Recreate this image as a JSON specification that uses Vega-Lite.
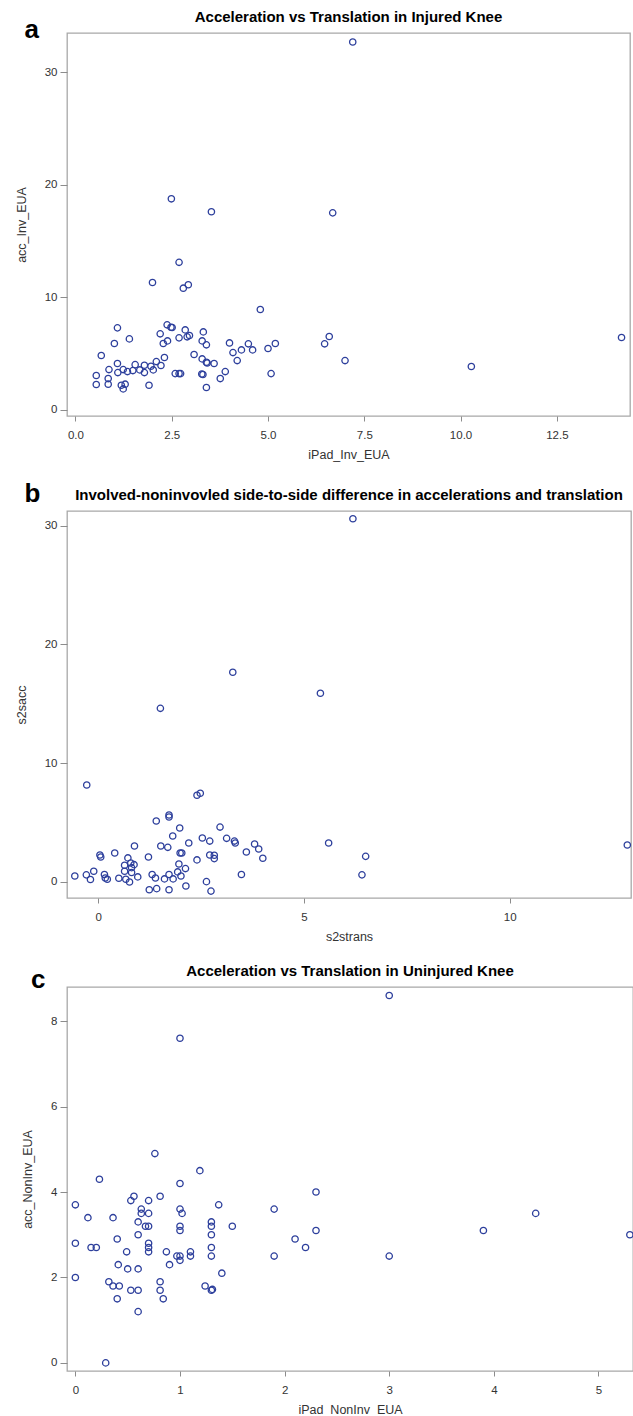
{
  "$schema": "https://vega.github.io/schema/vega-lite/v6.json",
  "padding": {"left": 14, "top": 9, "right": 0, "bottom": 0},
  "spacing": 19,
  "config": {
    "view": {"stroke": "#a8a8a8", "strokeWidth": 1.3},
    "font": "Liberation Sans",
    "axis": {
      "domain": false, "grid": false, "tickColor": "#8c8c8c", "tickWidth": 1,
      "labelFont": "Liberation Sans", "labelFontSize": 11.5, "labelColor": "#333333",
      "titleFont": "Liberation Sans", "titleFontSize": 12.5, "titleFontWeight": "normal", "titleColor": "#333333"
    },
    "axisX": {"tickSize": 5, "labelPadding": 8, "titlePadding": 8},
    "axisY": {"tickSize": 7, "labelPadding": 3, "titlePadding": 16}
  },
  "datasets": {
    "a": [
      {"iPad_Inv_EUA": 7.2, "acc_Inv_EUA": 32.7}, {"iPad_Inv_EUA": 2.49, "acc_Inv_EUA": 18.75}, {"iPad_Inv_EUA": 3.53, "acc_Inv_EUA": 17.6},
      {"iPad_Inv_EUA": 6.68, "acc_Inv_EUA": 17.5}, {"iPad_Inv_EUA": 2.69, "acc_Inv_EUA": 13.1}, {"iPad_Inv_EUA": 2.0, "acc_Inv_EUA": 11.3},
      {"iPad_Inv_EUA": 2.8, "acc_Inv_EUA": 10.8}, {"iPad_Inv_EUA": 2.93, "acc_Inv_EUA": 11.1}, {"iPad_Inv_EUA": 4.8, "acc_Inv_EUA": 8.9},
      {"iPad_Inv_EUA": 1.09, "acc_Inv_EUA": 7.27}, {"iPad_Inv_EUA": 2.38, "acc_Inv_EUA": 7.54}, {"iPad_Inv_EUA": 2.48, "acc_Inv_EUA": 7.33},
      {"iPad_Inv_EUA": 2.51, "acc_Inv_EUA": 7.3}, {"iPad_Inv_EUA": 2.85, "acc_Inv_EUA": 7.09}, {"iPad_Inv_EUA": 3.32, "acc_Inv_EUA": 6.91},
      {"iPad_Inv_EUA": 2.2, "acc_Inv_EUA": 6.74}, {"iPad_Inv_EUA": 2.69, "acc_Inv_EUA": 6.38}, {"iPad_Inv_EUA": 2.9, "acc_Inv_EUA": 6.47},
      {"iPad_Inv_EUA": 2.96, "acc_Inv_EUA": 6.59}, {"iPad_Inv_EUA": 1.4, "acc_Inv_EUA": 6.29}, {"iPad_Inv_EUA": 2.39, "acc_Inv_EUA": 6.11},
      {"iPad_Inv_EUA": 2.28, "acc_Inv_EUA": 5.88}, {"iPad_Inv_EUA": 1.01, "acc_Inv_EUA": 5.88}, {"iPad_Inv_EUA": 3.29, "acc_Inv_EUA": 6.11},
      {"iPad_Inv_EUA": 3.4, "acc_Inv_EUA": 5.76}, {"iPad_Inv_EUA": 4.0, "acc_Inv_EUA": 5.93}, {"iPad_Inv_EUA": 4.49, "acc_Inv_EUA": 5.85},
      {"iPad_Inv_EUA": 5.19, "acc_Inv_EUA": 5.88}, {"iPad_Inv_EUA": 5.0, "acc_Inv_EUA": 5.43}, {"iPad_Inv_EUA": 4.6, "acc_Inv_EUA": 5.31},
      {"iPad_Inv_EUA": 4.31, "acc_Inv_EUA": 5.31}, {"iPad_Inv_EUA": 4.09, "acc_Inv_EUA": 5.07}, {"iPad_Inv_EUA": 6.59, "acc_Inv_EUA": 6.5},
      {"iPad_Inv_EUA": 6.47, "acc_Inv_EUA": 5.85}, {"iPad_Inv_EUA": 14.18, "acc_Inv_EUA": 6.41}, {"iPad_Inv_EUA": 0.67, "acc_Inv_EUA": 4.81},
      {"iPad_Inv_EUA": 3.08, "acc_Inv_EUA": 4.9}, {"iPad_Inv_EUA": 2.31, "acc_Inv_EUA": 4.63}, {"iPad_Inv_EUA": 3.29, "acc_Inv_EUA": 4.51},
      {"iPad_Inv_EUA": 3.4, "acc_Inv_EUA": 4.21}, {"iPad_Inv_EUA": 3.42, "acc_Inv_EUA": 4.15}, {"iPad_Inv_EUA": 3.6, "acc_Inv_EUA": 4.1},
      {"iPad_Inv_EUA": 4.2, "acc_Inv_EUA": 4.36}, {"iPad_Inv_EUA": 7.0, "acc_Inv_EUA": 4.36}, {"iPad_Inv_EUA": 10.28, "acc_Inv_EUA": 3.83},
      {"iPad_Inv_EUA": 1.09, "acc_Inv_EUA": 4.1}, {"iPad_Inv_EUA": 1.55, "acc_Inv_EUA": 4.0}, {"iPad_Inv_EUA": 1.79, "acc_Inv_EUA": 3.95},
      {"iPad_Inv_EUA": 1.96, "acc_Inv_EUA": 3.86}, {"iPad_Inv_EUA": 2.1, "acc_Inv_EUA": 4.27}, {"iPad_Inv_EUA": 2.22, "acc_Inv_EUA": 3.92},
      {"iPad_Inv_EUA": 0.87, "acc_Inv_EUA": 3.56}, {"iPad_Inv_EUA": 1.24, "acc_Inv_EUA": 3.56}, {"iPad_Inv_EUA": 1.35, "acc_Inv_EUA": 3.38},
      {"iPad_Inv_EUA": 1.49, "acc_Inv_EUA": 3.47}, {"iPad_Inv_EUA": 1.67, "acc_Inv_EUA": 3.53}, {"iPad_Inv_EUA": 1.79, "acc_Inv_EUA": 3.29},
      {"iPad_Inv_EUA": 2.02, "acc_Inv_EUA": 3.53}, {"iPad_Inv_EUA": 1.1, "acc_Inv_EUA": 3.29}, {"iPad_Inv_EUA": 0.54, "acc_Inv_EUA": 3.03},
      {"iPad_Inv_EUA": 2.59, "acc_Inv_EUA": 3.2}, {"iPad_Inv_EUA": 2.69, "acc_Inv_EUA": 3.2}, {"iPad_Inv_EUA": 2.73, "acc_Inv_EUA": 3.2},
      {"iPad_Inv_EUA": 3.28, "acc_Inv_EUA": 3.17}, {"iPad_Inv_EUA": 3.31, "acc_Inv_EUA": 3.12}, {"iPad_Inv_EUA": 3.89, "acc_Inv_EUA": 3.38},
      {"iPad_Inv_EUA": 5.08, "acc_Inv_EUA": 3.2}, {"iPad_Inv_EUA": 3.76, "acc_Inv_EUA": 2.76}, {"iPad_Inv_EUA": 0.85, "acc_Inv_EUA": 2.76},
      {"iPad_Inv_EUA": 0.54, "acc_Inv_EUA": 2.23}, {"iPad_Inv_EUA": 0.85, "acc_Inv_EUA": 2.26}, {"iPad_Inv_EUA": 1.19, "acc_Inv_EUA": 2.17},
      {"iPad_Inv_EUA": 1.29, "acc_Inv_EUA": 2.26}, {"iPad_Inv_EUA": 1.24, "acc_Inv_EUA": 1.84}, {"iPad_Inv_EUA": 1.91, "acc_Inv_EUA": 2.17},
      {"iPad_Inv_EUA": 3.4, "acc_Inv_EUA": 1.96}
    ],
    "b": [
      {"s2strans": 6.19, "s2sacc": 30.6}, {"s2strans": 3.27, "s2sacc": 17.65}, {"s2strans": 5.4, "s2sacc": 15.88}, {"s2strans": 1.51, "s2sacc": 14.61},
      {"s2strans": -0.28, "s2sacc": 8.15}, {"s2strans": 2.4, "s2sacc": 7.28}, {"s2strans": 2.48, "s2sacc": 7.45}, {"s2strans": 1.72, "s2sacc": 5.62},
      {"s2strans": 1.72, "s2sacc": 5.45}, {"s2strans": 1.41, "s2sacc": 5.11}, {"s2strans": 2.96, "s2sacc": 4.6}, {"s2strans": 1.98, "s2sacc": 4.52},
      {"s2strans": 1.81, "s2sacc": 3.85}, {"s2strans": 2.53, "s2sacc": 3.68}, {"s2strans": 3.12, "s2sacc": 3.65}, {"s2strans": 2.71, "s2sacc": 3.42},
      {"s2strans": 3.31, "s2sacc": 3.42}, {"s2strans": 3.33, "s2sacc": 3.26}, {"s2strans": 2.2, "s2sacc": 3.26}, {"s2strans": 5.6, "s2sacc": 3.26},
      {"s2strans": 3.8, "s2sacc": 3.17}, {"s2strans": 12.86, "s2sacc": 3.09}, {"s2strans": 0.88, "s2sacc": 3.0}, {"s2strans": 1.52, "s2sacc": 3.0},
      {"s2strans": 1.69, "s2sacc": 2.89}, {"s2strans": 3.9, "s2sacc": 2.75}, {"s2strans": 0.04, "s2sacc": 2.25}, {"s2strans": 0.06, "s2sacc": 2.08},
      {"s2strans": 0.4, "s2sacc": 2.41}, {"s2strans": 1.99, "s2sacc": 2.41}, {"s2strans": 2.03, "s2sacc": 2.41}, {"s2strans": 3.6, "s2sacc": 2.5},
      {"s2strans": 2.71, "s2sacc": 2.25}, {"s2strans": 2.82, "s2sacc": 2.22}, {"s2strans": 2.82, "s2sacc": 1.94}, {"s2strans": 4.0, "s2sacc": 1.97},
      {"s2strans": 6.5, "s2sacc": 2.13}, {"s2strans": 1.22, "s2sacc": 2.08}, {"s2strans": 0.72, "s2sacc": 2.0}, {"s2strans": 2.4, "s2sacc": 1.83},
      {"s2strans": 0.79, "s2sacc": 1.57}, {"s2strans": 0.87, "s2sacc": 1.43}, {"s2strans": 0.64, "s2sacc": 1.38}, {"s2strans": 1.96, "s2sacc": 1.49},
      {"s2strans": 0.81, "s2sacc": 1.18}, {"s2strans": 0.64, "s2sacc": 0.88}, {"s2strans": 0.81, "s2sacc": 0.77}, {"s2strans": 2.12, "s2sacc": 1.1},
      {"s2strans": 1.93, "s2sacc": 0.82}, {"s2strans": -0.11, "s2sacc": 0.88}, {"s2strans": -0.57, "s2sacc": 0.48}, {"s2strans": -0.29, "s2sacc": 0.57},
      {"s2strans": -0.19, "s2sacc": 0.18}, {"s2strans": 0.15, "s2sacc": 0.6}, {"s2strans": 0.17, "s2sacc": 0.31}, {"s2strans": 0.22, "s2sacc": 0.2},
      {"s2strans": 0.5, "s2sacc": 0.28}, {"s2strans": 0.67, "s2sacc": 0.2}, {"s2strans": 0.76, "s2sacc": -0.03}, {"s2strans": 0.96, "s2sacc": 0.4},
      {"s2strans": 1.31, "s2sacc": 0.6}, {"s2strans": 1.39, "s2sacc": 0.31}, {"s2strans": 1.61, "s2sacc": 0.23}, {"s2strans": 1.72, "s2sacc": 0.6},
      {"s2strans": 1.82, "s2sacc": 0.23}, {"s2strans": 2.01, "s2sacc": 0.48}, {"s2strans": 3.48, "s2sacc": 0.6}, {"s2strans": 6.41, "s2sacc": 0.57},
      {"s2strans": 2.63, "s2sacc": 0.0}, {"s2strans": 2.13, "s2sacc": -0.37}, {"s2strans": 1.24, "s2sacc": -0.68}, {"s2strans": 1.42, "s2sacc": -0.59},
      {"s2strans": 1.72, "s2sacc": -0.68}, {"s2strans": 2.74, "s2sacc": -0.8}
    ],
    "c": [
      {"iPad_NonInv_EUA": 3.0, "acc_NonInv_EUA": 8.6}, {"iPad_NonInv_EUA": 1.0, "acc_NonInv_EUA": 7.6}, {"iPad_NonInv_EUA": 0.76, "acc_NonInv_EUA": 4.9},
      {"iPad_NonInv_EUA": 1.19, "acc_NonInv_EUA": 4.5}, {"iPad_NonInv_EUA": 0.23, "acc_NonInv_EUA": 4.3}, {"iPad_NonInv_EUA": 1.0, "acc_NonInv_EUA": 4.2},
      {"iPad_NonInv_EUA": 2.3, "acc_NonInv_EUA": 4.0}, {"iPad_NonInv_EUA": 0.56, "acc_NonInv_EUA": 3.9}, {"iPad_NonInv_EUA": 0.81, "acc_NonInv_EUA": 3.9},
      {"iPad_NonInv_EUA": 0.53, "acc_NonInv_EUA": 3.8}, {"iPad_NonInv_EUA": 0.7, "acc_NonInv_EUA": 3.8}, {"iPad_NonInv_EUA": 0.0, "acc_NonInv_EUA": 3.7},
      {"iPad_NonInv_EUA": 1.37, "acc_NonInv_EUA": 3.7}, {"iPad_NonInv_EUA": 0.63, "acc_NonInv_EUA": 3.6}, {"iPad_NonInv_EUA": 1.0, "acc_NonInv_EUA": 3.6},
      {"iPad_NonInv_EUA": 1.9, "acc_NonInv_EUA": 3.6}, {"iPad_NonInv_EUA": 0.63, "acc_NonInv_EUA": 3.5}, {"iPad_NonInv_EUA": 0.7, "acc_NonInv_EUA": 3.5},
      {"iPad_NonInv_EUA": 1.02, "acc_NonInv_EUA": 3.5}, {"iPad_NonInv_EUA": 4.4, "acc_NonInv_EUA": 3.5}, {"iPad_NonInv_EUA": 0.12, "acc_NonInv_EUA": 3.4},
      {"iPad_NonInv_EUA": 0.36, "acc_NonInv_EUA": 3.4}, {"iPad_NonInv_EUA": 0.6, "acc_NonInv_EUA": 3.3}, {"iPad_NonInv_EUA": 1.3, "acc_NonInv_EUA": 3.3},
      {"iPad_NonInv_EUA": 0.67, "acc_NonInv_EUA": 3.2}, {"iPad_NonInv_EUA": 0.7, "acc_NonInv_EUA": 3.2}, {"iPad_NonInv_EUA": 1.0, "acc_NonInv_EUA": 3.2},
      {"iPad_NonInv_EUA": 1.3, "acc_NonInv_EUA": 3.2}, {"iPad_NonInv_EUA": 1.5, "acc_NonInv_EUA": 3.2}, {"iPad_NonInv_EUA": 1.0, "acc_NonInv_EUA": 3.1},
      {"iPad_NonInv_EUA": 2.3, "acc_NonInv_EUA": 3.1}, {"iPad_NonInv_EUA": 3.9, "acc_NonInv_EUA": 3.1}, {"iPad_NonInv_EUA": 0.6, "acc_NonInv_EUA": 3.0},
      {"iPad_NonInv_EUA": 1.3, "acc_NonInv_EUA": 3.0}, {"iPad_NonInv_EUA": 5.3, "acc_NonInv_EUA": 3.0}, {"iPad_NonInv_EUA": 0.4, "acc_NonInv_EUA": 2.9},
      {"iPad_NonInv_EUA": 2.1, "acc_NonInv_EUA": 2.9}, {"iPad_NonInv_EUA": 0.0, "acc_NonInv_EUA": 2.8}, {"iPad_NonInv_EUA": 0.15, "acc_NonInv_EUA": 2.7},
      {"iPad_NonInv_EUA": 0.2, "acc_NonInv_EUA": 2.7}, {"iPad_NonInv_EUA": 0.7, "acc_NonInv_EUA": 2.8}, {"iPad_NonInv_EUA": 0.7, "acc_NonInv_EUA": 2.7},
      {"iPad_NonInv_EUA": 1.3, "acc_NonInv_EUA": 2.7}, {"iPad_NonInv_EUA": 2.2, "acc_NonInv_EUA": 2.7}, {"iPad_NonInv_EUA": 0.7, "acc_NonInv_EUA": 2.6},
      {"iPad_NonInv_EUA": 0.49, "acc_NonInv_EUA": 2.6}, {"iPad_NonInv_EUA": 0.87, "acc_NonInv_EUA": 2.6}, {"iPad_NonInv_EUA": 1.1, "acc_NonInv_EUA": 2.6},
      {"iPad_NonInv_EUA": 0.97, "acc_NonInv_EUA": 2.5}, {"iPad_NonInv_EUA": 1.0, "acc_NonInv_EUA": 2.5}, {"iPad_NonInv_EUA": 1.0, "acc_NonInv_EUA": 2.4},
      {"iPad_NonInv_EUA": 1.1, "acc_NonInv_EUA": 2.5}, {"iPad_NonInv_EUA": 1.3, "acc_NonInv_EUA": 2.5}, {"iPad_NonInv_EUA": 1.9, "acc_NonInv_EUA": 2.5},
      {"iPad_NonInv_EUA": 3.0, "acc_NonInv_EUA": 2.5}, {"iPad_NonInv_EUA": 0.41, "acc_NonInv_EUA": 2.3}, {"iPad_NonInv_EUA": 0.9, "acc_NonInv_EUA": 2.3},
      {"iPad_NonInv_EUA": 0.5, "acc_NonInv_EUA": 2.2}, {"iPad_NonInv_EUA": 0.6, "acc_NonInv_EUA": 2.2}, {"iPad_NonInv_EUA": 1.4, "acc_NonInv_EUA": 2.1},
      {"iPad_NonInv_EUA": 0.0, "acc_NonInv_EUA": 2.0}, {"iPad_NonInv_EUA": 0.32, "acc_NonInv_EUA": 1.9}, {"iPad_NonInv_EUA": 0.81, "acc_NonInv_EUA": 1.9},
      {"iPad_NonInv_EUA": 0.36, "acc_NonInv_EUA": 1.8}, {"iPad_NonInv_EUA": 0.42, "acc_NonInv_EUA": 1.8}, {"iPad_NonInv_EUA": 1.24, "acc_NonInv_EUA": 1.8},
      {"iPad_NonInv_EUA": 0.53, "acc_NonInv_EUA": 1.7}, {"iPad_NonInv_EUA": 0.6, "acc_NonInv_EUA": 1.7}, {"iPad_NonInv_EUA": 0.81, "acc_NonInv_EUA": 1.7},
      {"iPad_NonInv_EUA": 1.3, "acc_NonInv_EUA": 1.7}, {"iPad_NonInv_EUA": 1.31, "acc_NonInv_EUA": 1.72}, {"iPad_NonInv_EUA": 0.4, "acc_NonInv_EUA": 1.5},
      {"iPad_NonInv_EUA": 0.84, "acc_NonInv_EUA": 1.5}, {"iPad_NonInv_EUA": 0.6, "acc_NonInv_EUA": 1.2}, {"iPad_NonInv_EUA": 0.29, "acc_NonInv_EUA": 0.0}
    ]
  },
  "vconcat": [
    {
      "title": {"text": "a", "anchor": "start", "frame": "bounds", "fontSize": 26, "fontWeight": "bold", "font": "Liberation Sans", "color": "#000000", "baseline": "alphabetic", "offset": -21, "dx": 10, "dy": 34},
      "vconcat": [
        {
          "width": 563, "height": 383,
          "title": {"text": "Acceleration vs Translation in Injured Knee", "anchor": "middle", "frame": "group", "fontSize": 15, "fontWeight": "bold", "font": "Liberation Sans", "color": "#000000", "offset": 8},
          "data": {"name": "a"},
          "mark": {"type": "point", "shape": "circle", "filled": false, "size": 40, "strokeWidth": 1.3, "color": "#2d3f9c", "opacity": 1},
          "encoding": {
            "x": {"field": "iPad_Inv_EUA", "type": "quantitative", "scale": {"domain": [-0.22, 14.4], "nice": false, "zero": false},
                  "axis": {"values": [0, 2.5, 5, 7.5, 10, 12.5], "format": ".1f", "title": "iPad_Inv_EUA"}},
            "y": {"field": "acc_Inv_EUA", "type": "quantitative", "scale": {"domain": [-0.57, 33.5], "nice": false, "zero": false},
                  "axis": {"values": [0, 10, 20, 30], "title": "acc_Inv_EUA"}}
          }
        }
      ]
    },
    {
      "title": {"text": "b", "anchor": "start", "frame": "bounds", "fontSize": 26, "fontWeight": "bold", "font": "Liberation Sans", "color": "#000000", "baseline": "alphabetic", "offset": -13, "dx": 10, "dy": 28},
      "vconcat": [
        {
          "width": 564, "height": 387,
          "title": {"text": "Involved-noninvovled side-to-side difference in accelerations and translation", "anchor": "middle", "frame": "group", "fontSize": 15, "fontWeight": "bold", "font": "Liberation Sans", "color": "#000000", "offset": 8},
          "data": {"name": "b"},
          "mark": {"type": "point", "shape": "circle", "filled": false, "size": 40, "strokeWidth": 1.3, "color": "#2d3f9c", "opacity": 1},
          "encoding": {
            "x": {"field": "s2strans", "type": "quantitative", "scale": {"domain": [-0.76, 12.95], "nice": false, "zero": false},
                  "axis": {"values": [0, 5, 10], "title": "s2strans"}},
            "y": {"field": "s2sacc", "type": "quantitative", "scale": {"domain": [-1.38, 31.25], "nice": false, "zero": false},
                  "axis": {"values": [0, 10, 20, 30], "title": "s2sacc"}}
          }
        }
      ]
    },
    {
      "title": {"text": "c", "anchor": "start", "frame": "bounds", "fontSize": 26, "fontWeight": "bold", "font": "Liberation Sans", "color": "#000000", "baseline": "alphabetic", "offset": -21, "dx": 10, "dy": 30},
      "vconcat": [
        {
          "width": 566, "height": 384,
          "title": {"text": "Acceleration vs Translation in Uninjured Knee", "anchor": "middle", "frame": "group", "fontSize": 15, "fontWeight": "bold", "font": "Liberation Sans", "color": "#000000", "offset": 8},
          "data": {"name": "c"},
          "mark": {"type": "point", "shape": "circle", "filled": false, "size": 40, "strokeWidth": 1.3, "color": "#2d3f9c", "opacity": 1},
          "encoding": {
            "x": {"field": "iPad_NonInv_EUA", "type": "quantitative", "scale": {"domain": [-0.08, 5.33], "nice": false, "zero": false},
                  "axis": {"values": [0, 1, 2, 3, 4, 5], "title": "iPad_NonInv_EUA"}},
            "y": {"field": "acc_NonInv_EUA", "type": "quantitative", "scale": {"domain": [-0.19, 8.8], "nice": false, "zero": false},
                  "axis": {"values": [0, 2, 4, 6, 8], "title": "acc_NonInv_EUA"}}
          }
        }
      ]
    }
  ]
}
